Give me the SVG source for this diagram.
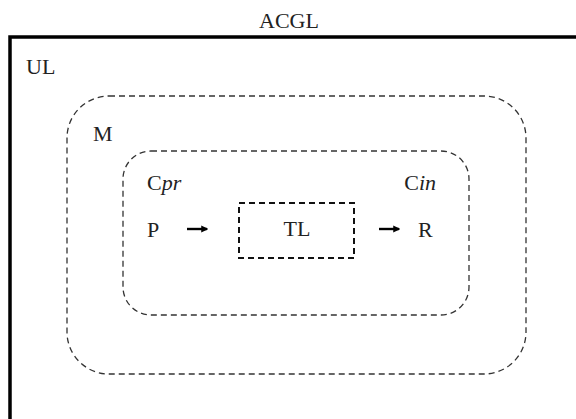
<svg xmlns="http://www.w3.org/2000/svg" width="576" height="419" viewBox="0 0 576 419">
<defs>
<style>
text{font-family:"Liberation Serif","Times New Roman",serif;font-size:22px;fill:#222}
.it{font-style:italic}
.dash{fill:none;stroke:#333;stroke-width:1.3;stroke-dasharray:6 4}
.dashb{fill:none;stroke:#111;stroke-width:2;stroke-dasharray:6 4}
.arr{stroke:#000;stroke-width:2.4;fill:none;marker-end:url(#ah)}
</style>
<marker id="ah" viewBox="0 0 10 10" refX="8" refY="5" markerWidth="3" markerHeight="3" orient="auto" markerUnits="strokeWidth">
<path d="M0,0 L10,5 L0,10 z" fill="#000"/>
</marker>
</defs>
<rect width="576" height="419" fill="#fff"/>
<g id="acgl-title"><text x="289" y="28" text-anchor="middle">ACGL</text></g>
<g id="UL">
<rect x="10" y="37" width="580" height="400" fill="none" stroke="#000" stroke-width="3.5"/>
<text x="26" y="74">UL</text>
</g>
<g id="M">
<rect class="dash" x="67" y="96" width="459" height="278" rx="42" ry="42"/>
<text x="93" y="141">M</text>
</g>
<g id="C">
<rect class="dash" x="123" y="151" width="346" height="164" rx="28" ry="28"/>
<text x="147" y="190">C<tspan class="it">pr</tspan></text>
<text x="436" y="190" text-anchor="end">C<tspan class="it">in</tspan></text>
</g>
<g id="P"><text x="147" y="237">P</text></g>
<g id="TL">
<rect class="dashb" x="239" y="203" width="115" height="55"/>
<text x="297" y="236" text-anchor="middle">TL</text>
</g>
<g id="R"><text x="418" y="237">R</text></g>
<g id="connectors">
<path class="arr" d="M187,229 H207"/>
<path class="arr" d="M379,229 H399"/>
</g>
</svg>
